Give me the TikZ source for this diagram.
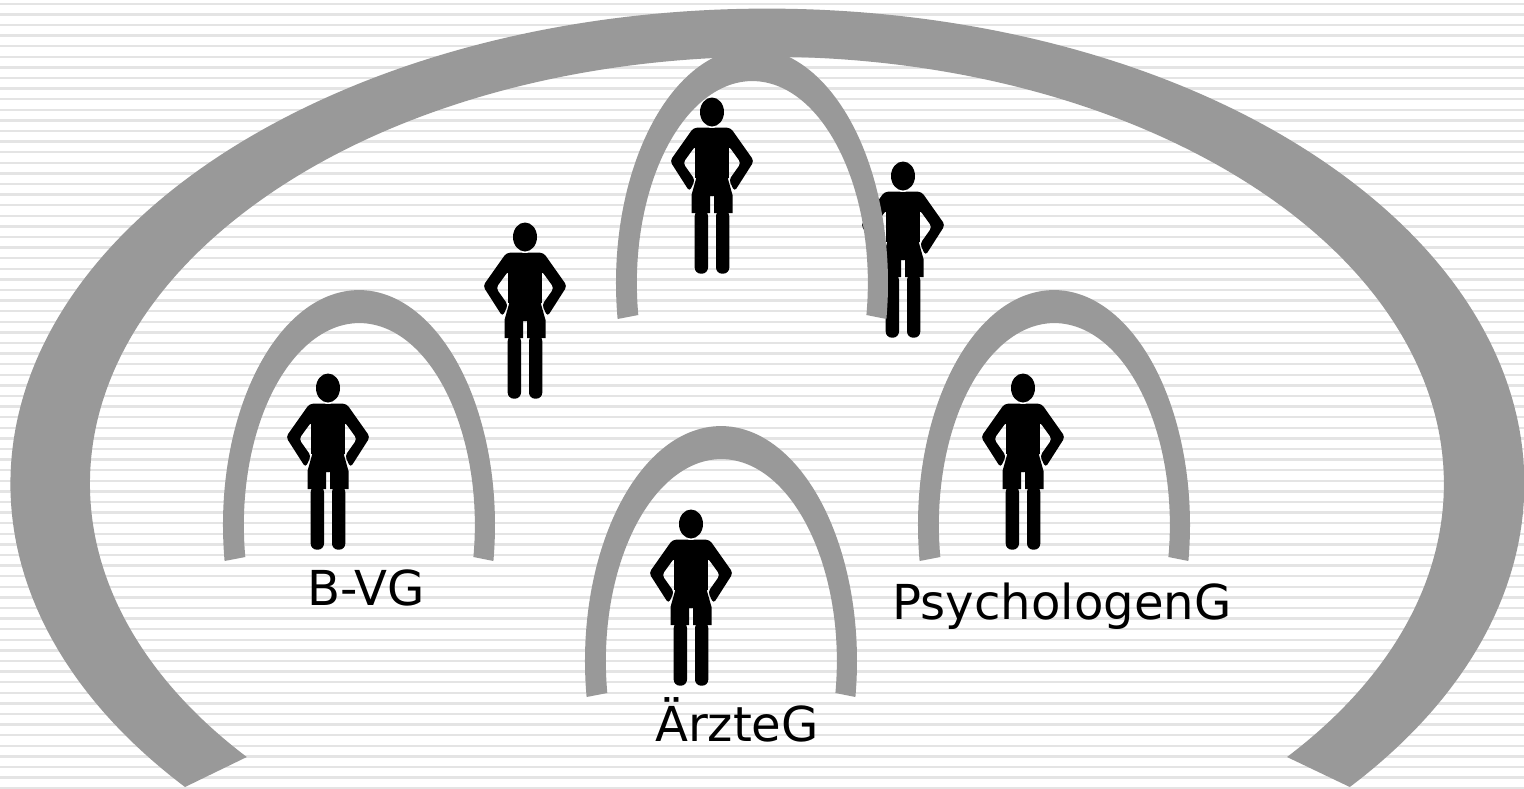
\documentclass[tikz,border=0pt]{standalone}
\usepackage{fontspec}
\setmainfont{DejaVu Sans}
\definecolor{archgray}{HTML}{999999}
\definecolor{stripegray}{HTML}{E4E4E4}
\newcommand{\person}[2]{
  \begin{scope}[shift={(#1,#2)}]
    \fill [black] (0,0) ellipse (12 and 14.5);
    \fill [black] (-17,-15.7) rectangle (17,-66);
    \foreach \side in {-1,1} {
      \begin{scope}[xscale=\side]
        \fill [black, rounded corners=2pt] (0.5,-15.7) -- (-18.5,-15.7) -- (-42,-49) -- (-22.5,-79.5) -- (-17,-68) -- (-29,-51) -- (-16.5,-33.7) -- (-16.5,-66) -- (0.5,-66) -- cycle;
        \fill [black] (0.5,-60) -- (-16,-60) -- (-16,-67) -- (-20.5,-83) -- (-20.5,-101) -- (-2,-101) -- (-2,-84) -- (0.5,-84) -- cycle;
        \fill [black, rounded corners=3.5pt] (-17.3,-98) -- (-17.3,-161.7) -- (-4,-161.7) -- (-4,-98) -- cycle;
      \end{scope}
    }
  \end{scope}
}
\newcommand{\archway}[2]{
  \fill [archgray] (#1-134.4,#2-271) arc (188.8:-8.8:136 and 235) -- ++(-20,4) arc (-9.1:189.1:115.5 and 202) -- cycle;
}
\begin{document}
\begin{tikzpicture}[x=0.02cm,y=0.02cm]
  \tikzstyle{every node}=[inner sep=0pt, font=\fontsize{27.4}{32}\selectfont]
  \useasboundingbox (0,0) rectangle (1524,-788);
  \fill [white] (0,0) rectangle (1524,-788);
  % background stripes
  \foreach \k in {0,...,74}
    \draw [stripegray, line width=0.05cm] (0,-3.8-10.6*\k) -- (1524,-3.8-10.6*\k);
  % people
  \person{712}{-112}
  \person{903}{-176}
  \person{525}{-237}
  \person{328}{-388}
  \person{1023}{-388}
  \person{691}{-524}
  % small arches
  \archway{359}{-290}
  \archway{721}{-426}
  \archway{1054}{-290}
  \archway{752}{-48}
  % outer arch
  \fill [archgray] (185,-787) arc (219.7:-39.7:757 and 475) -- (1287,-757) arc (-39.8:219.8:677 and 427) -- cycle;
  % labels
  \node (bvg) at (366,-588) {B-VG};
  \node (aerzte) at (737,-720) {ÄrzteG};
  \node (psych) at (1062,-606) {PsychologenG};
\end{tikzpicture}
\end{document}
